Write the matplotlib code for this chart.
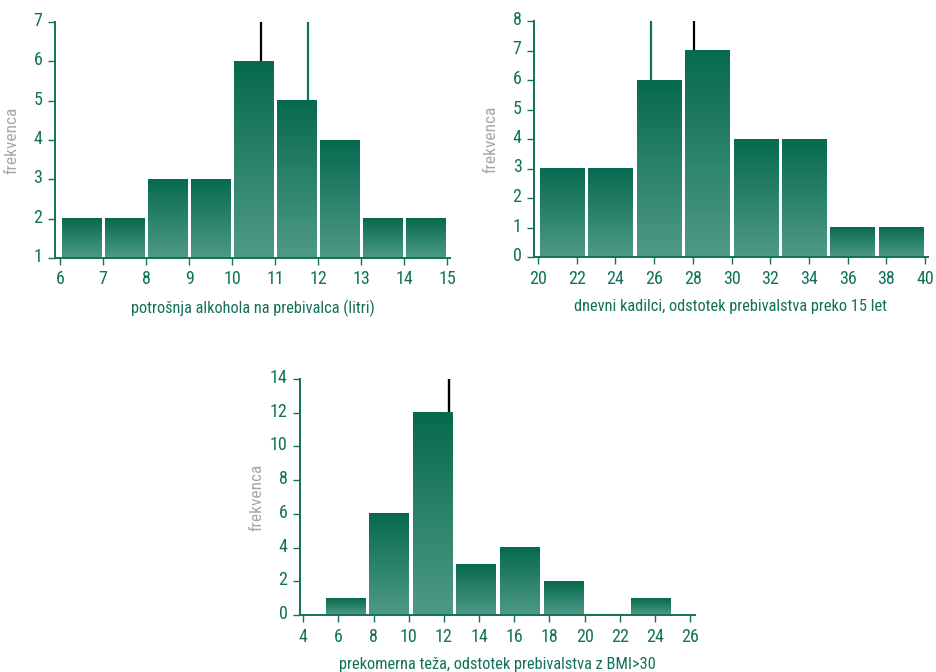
import matplotlib
matplotlib.use("Agg")
import matplotlib.pyplot as plt
import numpy as np
from matplotlib.colors import LinearSegmentedColormap
from matplotlib.transforms import ScaledTranslation

plt.rcParams['font.family'] = ['Roboto Condensed', 'Archivo Narrow', 'PT Sans Narrow',
                               'Roboto', 'DejaVu Sans']

GREEN = "#12715a"
TOP = "#066a4e"
BOT = "#4f9a86"
GREY = "#a6a6a6"
cmap = LinearSegmentedColormap.from_list("g", [BOT, TOP])

# chart 1: alcohol
alc_edges = [6, 7, 8, 9, 10, 11, 12, 13, 14, 15]
alc_counts = [2, 2, 3, 3, 6, 5, 4, 2, 2]
alc_lines = [(10.67, "black"), (11.77, GREEN)]

# chart 2: smokers
smk_edges = [20, 22.5, 25, 27.5, 30, 32.5, 35, 37.5, 40]
smk_counts = [3, 3, 6, 7, 4, 4, 1, 1]
smk_lines = [(25.82, GREEN), (28.08, "black")]

# chart 3: obesity
ob_edges = [5.15, 7.63, 10.11, 12.59, 15.07, 17.55, 20.03, 22.51, 24.99]
ob_counts = [1, 6, 12, 3, 4, 2, 0, 1]
ob_lines = [(12.29, GREEN), (12.29, "black")]

W, H = 937, 672
fig = plt.figure(figsize=(W / 100, H / 100), dpi=100)


def px_axes(x0, x1, y0, y1):
    return fig.add_axes([x0 / W, 1 - y1 / H, (x1 - x0) / W, (y1 - y0) / H])


def hist(ax, edges, counts, lines, xlim, ylim, xticks, yticks, xlabel, gap_px):
    base = ylim[0]
    for xv, c in lines:
        ax.plot([xv, xv], [base, ylim[1]], color=c, lw=1.6, zorder=1, solid_capstyle="butt")
    xpp = (xlim[1] - xlim[0]) / (ax.get_position().width * W)
    grad = np.linspace(0, 1, 256).reshape(-1, 1)
    for i, h in enumerate(counts):
        l = edges[i] + gap_px * xpp / 2
        r = edges[i + 1] - gap_px * xpp / 2
        if h <= base:
            # empty bin: only a faint sliver above the axis
            ax.plot([l, r], [base + 0.08, base + 0.08], color=BOT, lw=1, zorder=2, alpha=0.6)
            continue
        ax.imshow(grad, cmap=cmap, origin="lower", aspect="auto",
                  extent=[l, r, base, h], zorder=2, interpolation="bilinear")
    ax.set_xticks(xticks); ax.set_yticks(yticks)
    ax.set_xlim(*xlim); ax.set_ylim(*ylim)
    for s in ("top", "right"):
        ax.spines[s].set_visible(False)
    for s in ("left", "bottom"):
        ax.spines[s].set_color(GREEN); ax.spines[s].set_linewidth(1.4)
        ax.spines[s].set_zorder(3)
    ax.tick_params(colors=GREEN, labelsize=13, length=5, width=1)
    ax.tick_params(axis="x", pad=4)
    ax.tick_params(axis="y", pad=4)
    for lbl in ax.get_yticklabels():
        lbl.set_transform(lbl.get_transform() + ScaledTranslation(0, 0.03, fig.dpi_scale_trans))
    ax.set_xlabel(xlabel, color=GREEN, fontsize=11.8, labelpad=8)
    ax.set_ylabel("frekvenca", color=GREY, fontsize=12.5)
    ax.yaxis.set_label_coords(-36 / (ax.get_position().width * W), 0.5)


ax1 = px_axes(55, 450, 22, 258)
hist(ax1, alc_edges, alc_counts, alc_lines, (5.88, 15.07), (1, 7),
     range(6, 16), range(1, 8), "potrošnja alkohola na prebivalca (litri)", 3)

ax2 = px_axes(534, 928, 21, 257)
hist(ax2, smk_edges, smk_counts, smk_lines, (19.79, 40.15), (0, 8),
     range(20, 41, 2), range(0, 9), "dnevni kadilci, odstotek prebivalstva preko 15 let", 4)

ax3 = px_axes(300, 695, 379, 615)
hist(ax3, ob_edges, ob_counts, ob_lines, (3.81, 26.28), (0, 14),
     range(4, 27, 2), range(0, 15, 2), "prekomerna teža, odstotek prebivalstva z BMI>30", 4)

fig.savefig("out.png", dpi=100)
